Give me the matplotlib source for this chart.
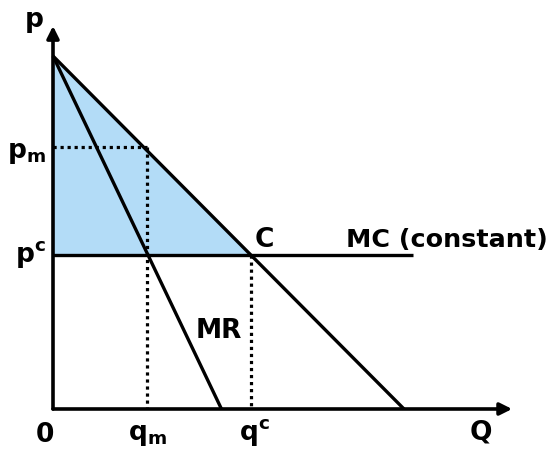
import matplotlib
matplotlib.use("Agg")
import matplotlib.pyplot as plt

# ---- values ----
p_max = 10.0          # demand / MR intercept on p axis
q_demand = 10.0       # demand intercept on Q axis
q_mr = 4.8            # MR intercept on Q axis
mc = 4.36             # constant marginal cost (p^c)
q_c = 5.64            # competitive quantity
q_m = 2.68            # monopoly quantity
p_m = 7.42            # monopoly price
mc_end = 10.26        # end of MC line
q_axis_end = 13.08
p_axis_end = 10.85

plt.rcParams['mathtext.fontset'] = 'dejavusans'

fig = plt.figure(figsize=(5.52, 4.52), dpi=100)
ax = fig.add_axes([0, 0, 1, 1])
ax.set_xlim(-1.510, 14.217)
ax.set_ylim(-1.190, 11.615)
ax.axis('off')

lw = 2.4
# shaded triangle
ax.fill([0, 0, q_c], [p_max, mc, mc], color='#b3dcf7', lw=0, zorder=1)

# demand and MR
ax.plot([0, q_demand], [p_max, 0], color='k', lw=lw, solid_capstyle='butt', zorder=3)
ax.plot([0, q_mr], [p_max, 0], color='k', lw=lw, solid_capstyle='butt', zorder=3)
# MC
ax.plot([0, mc_end], [mc, mc], color='k', lw=lw, solid_capstyle='butt', zorder=3)

# dotted guides
dot = dict(color='k', lw=2.3, linestyle=(0, (1, 1.2)), dash_capstyle='butt', zorder=2)
ax.plot([0, q_m], [p_m, p_m], **dot)
ax.plot([q_m, q_m], [p_m, 0], **dot)
ax.plot([q_c, q_c], [mc, 0], **dot)

# axes with arrows
arr = dict(arrowstyle='-|>', lw=2.6, color='k', mutation_scale=18, shrinkA=0, shrinkB=0)
ax.annotate('', xy=(0, p_axis_end), xytext=(0, 0), arrowprops=arr, zorder=4)
ax.annotate('', xy=(q_axis_end, 0), xytext=(0, 0), arrowprops=arr, zorder=4)

fs = 19
tk = dict(fontsize=fs, fontweight='bold', family='DejaVu Sans', color='k', va='baseline')
ax.text(-0.54, 10.85, 'p', ha='center', **tk)
ax.text(-0.2, 7.14, r'$\mathbf{p}_\mathbf{m}$', ha='right', **tk)
ax.text(-0.2, 4.19, r'$\mathbf{p}^\mathbf{c}$', ha='right', **tk)
ax.text(-0.23, -0.91, '0', ha='center', **tk)
ax.text(q_m, -0.85, r'$\mathbf{q}_\mathbf{m}$', ha='center', **tk)
ax.text(5.73, -0.85, r'$\mathbf{q}^\mathbf{c}$', ha='center', **tk)
ax.text(12.19, -0.85, 'Q', ha='center', **tk)
ax.text(5.75, 4.62, 'C', ha='left', **tk)
tk_mc = dict(tk, fontsize=18.3)
ax.text(14.10, 4.62, 'MC (constant)', ha='right', **tk_mc)
ax.text(4.05, 2.04, 'MR', ha='left', **tk)

fig.savefig('out.png', dpi=100)
